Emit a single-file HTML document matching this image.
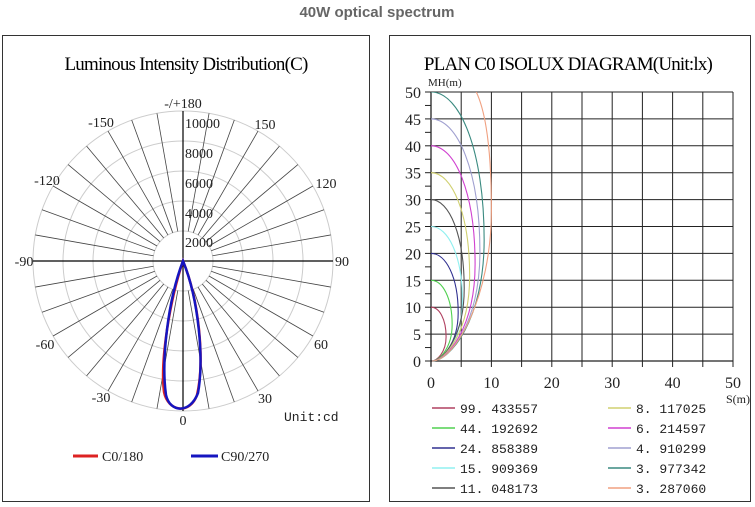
<!DOCTYPE html>
<html><head><meta charset="utf-8"><style>
body{margin:0;background:#fff;width:755px;height:507px;overflow:hidden}
svg{position:absolute;left:0;top:0}
text{font-family:"Liberation Serif",serif}
</style></head><body>
<svg id="s" width="755" height="507" viewBox="0 0 755 507">
<text x="377" y="17" text-anchor="middle" font-weight="bold" font-size="15" fill="#666" style="font-family:'Liberation Sans',sans-serif">40W optical spectrum</text>
<rect x="2.5" y="35.5" width="367" height="466" fill="none" stroke="#333"/>
<rect x="389.5" y="35.5" width="361" height="466" fill="none" stroke="#333"/>
<text x="186" y="70" text-anchor="middle" font-size="19" letter-spacing="-0.8">Luminous Intensity Distribution(C)</text>
<text x="568" y="70" text-anchor="middle" font-size="19" letter-spacing="-0.8">PLAN C0 ISOLUX DIAGRAM(Unit:lx)</text>
<g id="polar"></g>
<g id="iso"></g>
</svg>
<script>
const NS="http://www.w3.org/2000/svg";
function el(p,t,a,txt){const e=document.createElementNS(NS,t);for(const k in a)e.setAttribute(k,a[k]);if(txt!==undefined)e.textContent=txt;p.appendChild(e);return e;}
const P=document.getElementById('polar');const cx=183,cy=261;
for(let r=30;r<=150;r+=30)el(P,'circle',{cx,cy,r,fill:'none',stroke:'#ccc','stroke-width':1});
for(let a=0;a<360;a+=10){if(a%90==0)continue;const t=a*Math.PI/180;
el(P,'line',{x1:cx+30*Math.sin(t),y1:cy+30*Math.cos(t),x2:cx+150*Math.sin(t),y2:cy+150*Math.cos(t),stroke:'#444','stroke-width':0.8});}
el(P,'line',{x1:33,y1:cy,x2:333,y2:cy,stroke:'#000','stroke-width':1.2});
el(P,'line',{x1:cx,y1:111,x2:cx,y2:411,stroke:'#000','stroke-width':1.2});
const lab=[["-/+180",183,108],["-150",101,127],["150",265,129],["-120",47,185],["120",326,188],["-90",24,266],["90",342,266],["-60",45,349],["60",321,349],["-30",101,402],["30",265,403],["0",183,425]];
lab.forEach(l=>el(P,'text',{x:l[1],y:l[2],'text-anchor':'middle','font-size':14,fill:'#222'},l[0]));
[["10000",128],["8000",158],["6000",188],["4000",218],["2000",247]].forEach(v=>el(P,'text',{x:185,y:v[1],'font-size':14,fill:'#222'},v[0]));
el(P,'text',{x:284,y:421,'font-size':13,fill:'#222',style:"font-family:'Liberation Mono',monospace"},"Unit:cd");
el(P,'path',{d:`M183,261 C170,300 160,360 164,392 C168,412 190,415 197,395 C205,360 199,300 183,261Z`,fill:'none',stroke:'#d22','stroke-width':2.5});
el(P,'path',{d:`M183,261 C168,300 161,360 166,395 C170,413 190,414 198,393 C204,360 199,300 183,261Z`,fill:'none',stroke:'#1515c0','stroke-width':2.5});
el(P,'line',{x1:73,y1:456,x2:98,y2:456,stroke:'#d22','stroke-width':3});
el(P,'text',{x:102,y:461,'font-size':14,fill:'#222'},"C0/180");
el(P,'line',{x1:191,y1:456,x2:218,y2:456,stroke:'#1515c0','stroke-width':3});
el(P,'text',{x:221,y:461,'font-size':14,fill:'#222'},"C90/270");
const I=document.getElementById('iso');const x0=431,y0=361,sx=6.04,sy=5.38;
const X=v=>x0+v*sx,Y=v=>y0-v*sy;
for(let i=1;i<=10;i++){el(I,'line',{x1:X(i*5),y1:Y(0),x2:X(i*5),y2:Y(50),stroke:'#222','stroke-width':1});el(I,'line',{x1:X(0),y1:Y(i*5),x2:X(50),y2:Y(i*5),stroke:'#222','stroke-width':1});}
el(I,'line',{x1:X(0),y1:Y(0)+5,x2:X(0),y2:Y(50),stroke:'#222','stroke-width':1.3});
el(I,'line',{x1:X(0),y1:Y(0),x2:X(50),y2:Y(0),stroke:'#222','stroke-width':1.3});
for(let i=0;i<=20;i++){el(I,'line',{x1:X(0)-6,y1:Y(i*2.5),x2:X(0),y2:Y(i*2.5),stroke:'#222'});}
for(let i=0;i<=10;i++){el(I,'line',{x1:X(i*5),y1:Y(0),x2:X(i*5),y2:Y(0)+6,stroke:'#222'});}
for(let i=0;i<=10;i++)el(I,'text',{x:X(0)-10,y:Y(i*5)+6,'text-anchor':'end','font-size':16,fill:'#222'},String(i*5));
for(let i=0;i<=5;i++)el(I,'text',{x:X(i*10),y:Y(0)+27,'text-anchor':'middle','font-size':16,fill:'#222'},String(i*10));
el(I,'text',{x:428,y:86,'font-size':11,fill:'#222'},"MH(m)");
el(I,'text',{x:726,y:403,'font-size':12,fill:'#222'},"S(m)");
const cols=['#b04060','#50d050','#303090','#90f0f0','#555','#d0d070','#d040d0','#a0a0d0','#3a8a80','#f0a080'];
const H=[10,15,20,25,30,35,40,45,50,56],W=[2.5,3.5,4.5,5.2,5.5,6.4,7.3,8.1,8.8,10];
for(let i=0;i<10;i++){const h=H[i],w=W[i];
let d=`M${X(0)},${Y(h)} C${X(0.55*w)},${Y(h)} ${X(w)},${Y(0.78*h)} ${X(w)},${Y(0.45*h)} C${X(w)},${Y(0.15*h)} ${X(0.35*w)},${Y(0)} ${X(0.2)},${Y(0)}`;
if(i==9)d=`M${X(7.5)},${Y(50)} C${X(9.6)},${Y(45)} ${X(10)},${Y(35)} ${X(10)},${Y(28)} C${X(10)},${Y(12)} ${X(4)},${Y(0)} ${X(0.2)},${Y(0)}`;
const g=el(I,'svg',{x:0,y:Y(50),width:755,height:300,viewBox:`0 ${Y(50)} 755 300`,overflow:'hidden'});
el(g,'path',{d,fill:'none',stroke:cols[i],'stroke-width':1.1});}
const vals=["99.433557","44.192692","24.858389","15.909369","11.048173","8.117025","6.214597","4.910299","3.977342","3.287060"];
for(let i=0;i<10;i++){const c=i<5?0:1,r=i%5;const lx=c?608:432,y=408+r*20;
el(I,'line',{x1:lx,y1:y,x2:lx+23,y2:y,stroke:cols[i],'stroke-width':1.5});
el(I,'text',{x:lx+28,y:y+5,'font-size':13,fill:'#222',style:"font-family:'Liberation Mono',monospace"},vals[i].replace('.','. '));}
</script>
</body></html>
